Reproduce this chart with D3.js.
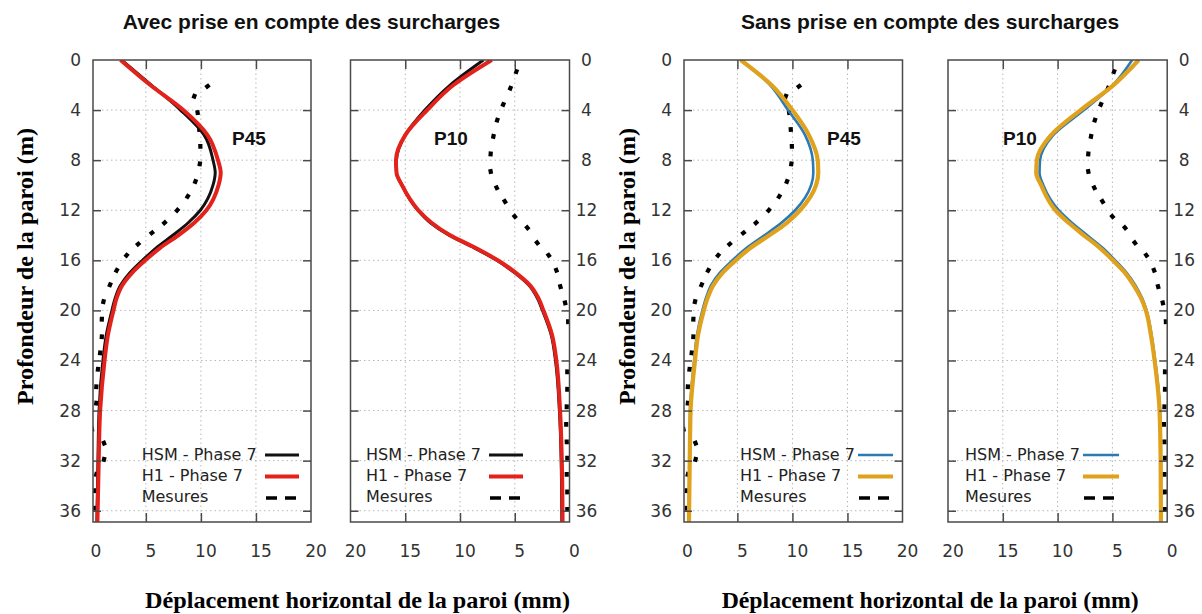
<!DOCTYPE html>
<html><head><meta charset="utf-8">
<script src="https://cdn.jsdelivr.net/npm/d3@7"></script>
<style>body{margin:0;background:#fff}svg{display:block}</style>
</head><body>
<svg id="c" width="1202" height="614"></svg>
<script>
// ---------- DATA ----------
const depthModel = [0,2,4,6,8,9,10,12,13,14,15,16,17,18,19,20,22,24,28,32,37];
// Avec surcharges
const p45AvecHSM = [2.8,5.5,8.15,10.3,11.1,11.3,11.1,9.95,8.85,7.45,5.95,4.7,3.55,2.7,2.22,1.92,1.4,1.1,0.75,0.65,0.55];
const p45AvecH1  = [2.7,5.4,8.4,10.6,11.55,11.8,11.6,10.5,9.4,7.95,6.3,4.95,3.75,2.85,2.35,2.06,1.55,1.25,0.85,0.72,0.6];
const p10AvecHSM = [7.86,10.9,13.2,15.0,15.8,15.8,15.3,13.85,12.7,11.0,8.7,6.65,5.0,3.7,2.95,2.47,1.66,1.28,0.92,0.76,0.7];
const p10AvecH1  = [7.1,10.6,13.0,15.0,15.85,15.8,15.3,13.8,12.6,10.9,8.6,6.55,4.9,3.6,2.85,2.38,1.58,1.2,0.86,0.7,0.63];
// Sans surcharges
const p45SansHSM = [5.3,7.97,9.6,11.15,11.85,11.9,11.7,10.25,9.0,7.45,5.85,4.55,3.4,2.6,2.15,1.82,1.32,1.07,0.7,0.64,0.58];
const p45SansH1  = [5.3,8.1,10.0,11.5,12.3,12.35,12.15,10.7,9.5,7.9,6.2,4.85,3.65,2.8,2.3,1.95,1.42,1.15,0.75,0.67,0.6];
const p10SansHSM = [3.2,4.95,7.6,10.4,11.6,11.65,11.3,9.9,8.7,7.3,5.9,4.75,3.7,2.9,2.3,1.88,1.42,1.1,0.65,0.57,0.55];
const p10SansH1  = [2.6,4.9,7.9,10.6,11.9,11.95,11.5,10.2,9.0,7.6,6.15,4.95,3.85,3.05,2.4,1.95,1.48,1.15,0.7,0.6,0.57];
// Mesures
const mesP45Depth = [2.1,2.9,4.2,5.55,6.9,8.3,9.7,10.9,12.0,13.0,13.8,14.7,15.6,16.8,17.95,19.3,20.7,22.1,23.4,24.7,26.1,27.4,29.5,30.6,31.9,33.1,34.4,35.8];
const mesP45Val   = [10.6,9.4,9.7,9.85,9.95,9.9,9.5,8.8,7.85,6.7,5.55,4.3,3.25,2.35,1.75,1.15,1.0,1.0,0.85,0.65,0.5,0.5,0.1,1.2,1.2,0.5,0.4,0.4];
const mesP10Depth = [0.93,2.25,3.55,4.8,6.1,7.5,8.9,10.2,11.3,12.5,13.4,14.6,15.6,16.8,18.1,19.4,20.9,24.9,26.3,27.7,29.1,30.5,31.8,33.1,34.5,35.9];
const mesP10Val   = [4.85,5.4,6.05,6.6,6.95,7.2,7.2,6.65,5.9,5.0,3.85,2.95,1.9,1.2,0.83,0.4,0.12,0.2,0.2,0.25,0.3,0.25,0.2,0.25,0.2,0.2];
// Ticks / labels
const yTicks = [0,4,8,12,16,20,24,28,32,36];
const xTicks = [0,5,10,15,20];
const titles = ["Avec prise en compte des surcharges","Sans prise en compte des surcharges"];
const legendLabels = ["HSM - Phase 7","H1 - Phase 7","Mesures"];
const yTitle = "Profondeur de la paroi (m)";
const xTitle = "Déplacement horizontal de la paroi (mm)";

// ---------- LAYOUT ----------
const svg = d3.select('#c');
const yTop = 60, yBot = 522;
const y = d3.scaleLinear().domain([0,36.9]).range([yTop,yBot]);

const panels = [
 {x0:93, x1:311, dom:[0.2,20], hsm:p45AvecHSM, h1:p45AvecH1, md:mesP45Depth, mv:mesP45Val,
  cH:'#111', cH1:'#e3221b', wH:3, wH1:4, side:'left', name:'P45', nx:232, legT:141.7, legL:[265,299]},
 {x0:350.5, x1:569.5, dom:[20,0], hsm:p10AvecHSM, h1:p10AvecH1, md:mesP10Depth, mv:mesP10Val,
  cH:'#111', cH1:'#e3221b', wH:3, wH1:4, side:'right', name:'P10', nx:434, legT:366, legL:[489,523]},
 {x0:684, x1:902.5, dom:[0.15,20], hsm:p45SansHSM, h1:p45SansH1, md:mesP45Depth, mv:mesP45Val,
  cH:'#2a7ab5', cH1:'#e0a21c', wH:2.6, wH1:4.2, side:'left', name:'P45', nx:827, legT:740, legL:[858,893]},
 {x0:948, x1:1167.2, dom:[20,0], hsm:p10SansHSM, h1:p10SansH1, md:mesP10Depth, mv:mesP10Val,
  cH:'#2a7ab5', cH1:'#e0a21c', wH:2.6, wH1:4.2, side:'right', name:'P10', nx:1003, legT:965, legL:[1083,1119]}
];

const defs = svg.append('defs');
const tickFont = '"DejaVu Sans", sans-serif';

panels.forEach((p,i)=>{
  const x = d3.scaleLinear().domain(p.dom).range([p.x0,p.x1]);
  const g = svg.append('g');
  defs.append('clipPath').attr('id','clip'+i).append('rect')
    .attr('x',p.x0).attr('y',yTop).attr('width',p.x1-p.x0).attr('height',yBot-yTop);

  // grid
  g.selectAll('line.gy').data(yTicks.filter(t=>t>0)).join('line').attr('class','gy')
    .attr('x1',p.x0).attr('x2',p.x1).attr('y1',d=>y(d)).attr('y2',d=>y(d))
    .attr('stroke','#b8b8b8').attr('stroke-width',1).attr('stroke-dasharray','1.5,3');
  g.selectAll('line.gx').data([5,10,15]).join('line').attr('class','gx')
    .attr('x1',d=>x(d)).attr('x2',d=>x(d)).attr('y1',yTop).attr('y2',yBot)
    .attr('stroke','#b8b8b8').attr('stroke-width',1).attr('stroke-dasharray','1.5,3');

  // measurements: short dashes along the measured profile
  const pts = d3.zip(p.md,p.mv).map(d=>[x(d[1]), y(d[0])]);
  const dashes = pts.map((pt,k)=>{
    const a = pts[Math.max(0,k-1)], b = pts[Math.min(pts.length-1,k+1)];
    let dx = b[0]-a[0], dy = b[1]-a[1]; const n = Math.hypot(dx,dy)||1; dx/=n; dy/=n;
    const h = 2.4;
    return [pt[0]-dx*h, pt[1]-dy*h, pt[0]+dx*h, pt[1]+dy*h];
  });
  g.append('g').attr('clip-path','url(#clip'+i+')')
    .selectAll('line').data(dashes).join('line')
    .attr('x1',d=>d[0]).attr('y1',d=>d[1]).attr('x2',d=>d[2]).attr('y2',d=>d[3])
    .attr('stroke','#000').attr('stroke-width',4.2);

  // model curves
  const line = d3.line().x(d=>x(d[1])).y(d=>y(d[0])).curve(d3.curveMonotoneY);
  const cg = g.append('g').attr('clip-path','url(#clip'+i+')');
  cg.append('path').datum(d3.zip(depthModel,p.hsm)).attr('d',line)
    .attr('fill','none').attr('stroke',p.cH).attr('stroke-width',p.wH);
  cg.append('path').datum(d3.zip(depthModel,p.h1)).attr('d',line)
    .attr('fill','none').attr('stroke',p.cH1).attr('stroke-width',p.wH1);

  // frame
  g.append('rect').attr('x',p.x0).attr('y',yTop).attr('width',p.x1-p.x0).attr('height',yBot-yTop)
    .attr('fill','none').attr('stroke','#4a4a4a').attr('stroke-width',1.5);

  // y axes (ticks inward on both sides)
  const yl = d3.axisLeft(y).tickValues(yTicks).tickSize(-8).tickPadding(12);
  const yr = d3.axisRight(y).tickValues(yTicks).tickSize(-8).tickPadding(12);
  const gl = g.append('g').attr('transform',`translate(${p.x0},0)`).call(p.side==='left'?yl:yl.tickFormat(''));
  const gr = g.append('g').attr('transform',`translate(${p.x1},0)`).call(p.side==='right'?yr:yr.tickFormat(''));
  [gl,gr].forEach(a=>{
    a.select('.domain').remove();
    a.selectAll('.tick line').attr('stroke','#4a4a4a').attr('stroke-width',1.5)
      .filter(d=>d===0).remove();
    a.selectAll('.tick text').attr('font-family',tickFont).attr('font-size',17).attr('fill','#333');
  });
  if(p.side==='right') gr.selectAll('.tick text').attr('text-anchor','middle').attr('x',17);

  // x axes
  const xb = d3.axisBottom(x).tickValues(xTicks).tickSize(-9).tickPadding(23);
  const xt = d3.axisTop(x).tickValues(xTicks).tickSize(-9).tickFormat('');
  const gb = g.append('g').attr('transform',`translate(0,${yBot})`).call(xb);
  const gt = g.append('g').attr('transform',`translate(0,${yTop})`).call(xt);
  [gb,gt].forEach(a=>{
    a.select('.domain').remove();
    a.selectAll('.tick line').attr('stroke','#4a4a4a').attr('stroke-width',1.5)
      .filter(d=>d===0||d===20).remove();
  });
  gb.selectAll('.tick text').attr('font-family',tickFont).attr('font-size',17).attr('fill','#333').attr('dx',4.5);

  // panel name
  g.append('text').attr('x',p.nx).attr('y',145).text(p.name)
    .attr('font-family','"Liberation Sans", Arial, sans-serif').attr('font-weight','bold').attr('font-size',19).attr('fill','#111');

  // legend
  const rows = [460,481,502], lineY = [455,476.5,498];
  legendLabels.forEach((t,k)=>{
    g.append('text').attr('x',p.legT).attr('y',rows[k]).text(t)
      .attr('font-family',tickFont).attr('font-size',16).attr('fill','#222');
  });
  g.append('line').attr('x1',p.legL[0]).attr('x2',p.legL[1]).attr('y1',lineY[0]).attr('y2',lineY[0])
    .attr('stroke',p.cH).attr('stroke-width',p.wH);
  g.append('line').attr('x1',p.legL[0]).attr('x2',p.legL[1]).attr('y1',lineY[1]).attr('y2',lineY[1])
    .attr('stroke',p.cH1).attr('stroke-width',p.wH1);
  g.append('line').attr('x1',p.legL[0]+1).attr('x2',p.legL[1]-2).attr('y1',lineY[2]).attr('y2',lineY[2])
    .attr('stroke','#000').attr('stroke-width',3.5).attr('stroke-dasharray','11,8');
});

// titles
[[311.5,titles[0]],[930,titles[1]]].forEach(([cx,t])=>{
  svg.append('text').attr('x',cx).attr('y',29).attr('text-anchor','middle').text(t)
    .attr('font-family','"Liberation Sans", Arial, sans-serif').attr('font-weight','bold').attr('font-size',21).attr('fill','#111');
});
// axis titles
const serif = '"Liberation Serif", "Times New Roman", serif';
[[33],[635]].forEach(([bx])=>{
  svg.append('text').attr('transform',`translate(${bx},266.5) rotate(-90)`).attr('text-anchor','middle')
    .text(yTitle).attr('font-family',serif).attr('font-weight','bold').attr('font-size',24)
    .attr('textLength',277).attr('lengthAdjust','spacingAndGlyphs').attr('fill','#000');
});
[[145,425],[721.7,417]].forEach(([sx,len])=>{
  svg.append('text').attr('x',sx).attr('y',608).text(xTitle)
    .attr('font-family',serif).attr('font-weight','bold').attr('font-size',24)
    .attr('textLength',len).attr('lengthAdjust','spacingAndGlyphs').attr('fill','#000');
});
</script>
</body></html>
